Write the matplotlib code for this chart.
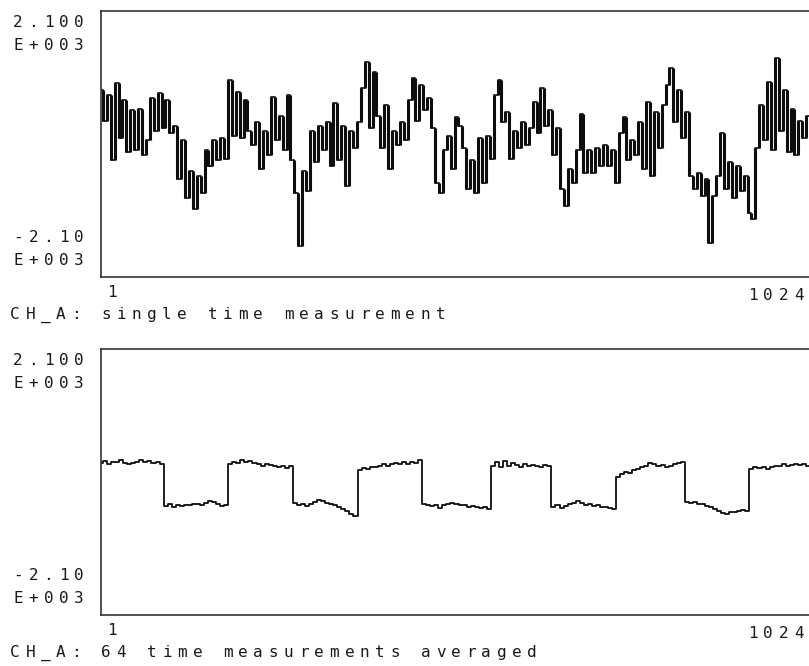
import numpy as np
import matplotlib
matplotlib.use("Agg")
import matplotlib.pyplot as plt

# --- data (values in E+003 units, i.e. raw counts) ---
y_min, y_max = -2100, 2100
x_first, x_last = 1, 1024

# CH_A, single time measurement
single_trace = [
    850, 370, 770, -260, 960, 90, 690, -130, 530, -100, 560, -180, 60, 720, 210, 800,
    250, 690, 180, 290, -550, 60, -860, -420, -1020, -500, -770, -100, -340, 60, -260, 90,
    -230, 1010, 130, 820, 90, 690, 210, -20, 340, -390, 210, -180, 740, 60,
    450, -100, 770, -260, -770, -1610, -420, -740, 210, -290, 290, -100, 340, -340, 640, -260,
    290, -660, 210, -70, 340, 880, 1290, 250, 1130, 450, -70, 610, -390, 210, -20, 340,
    60, 690, 1050, 370, 930, 530, 720, 250, -610, -770, -100, 130, -390, 420,
    290, -70, -710, -260, -770, 90, -610, 130, -230, 770, 1010, 340, 500, -230, 210, -70,
    340, -20, 250, 660, 180, 880, 290, 530, -180, 250, -710, -980, -390, -610, -100, 480,
    -450, -100, -450, -70, -340, -20, -340, -100, -610, 180, 420, -260, 60,
    -180, 340, -390, 660, -500, 500, -70, 610, 930, 1200, 340, 850, 90, 500, -500, -710,
    -450, -820, -550, -1560, -820, -500, 170, -710, -290, -860, -340, -740, -500, -1090, -1180, -70,
    610, 60, 980, -100, 1360, 210, 850, -130, 560, -180, 370, 90, 450, 210,
]

# CH_A, 64 time measurements averaged
averaged_trace = [
    300, 330, 290, 320, 310, 340, 300, 280, 300, 320, 340, 310, 330, 300, 320, 290,
    -380, -350, -390, -370, -380, -360, -370, -350, -340, -360, -330, -300, -320, -340, -380, -370,
    280, 320, 300, 340, 310, 330, 300, 290, 260, 280, 270, 250, 230, 260, 220, 250,
    -330, -360, -340, -380, -350, -310, -290, -300, -330, -350, -370, -400, -430, -460, -500, -530,
    190, 220, 200, 240, 230, 260, 280, 260, 290, 300, 280, 310, 290, 320, 300, 340,
    -340, -360, -380, -370, -410, -360, -350, -330, -350, -370, -360, -390, -380, -400, -410, -390, -420,
    260, 310, 230, 330, 250, 300, 270, 240, 280, 250, 270, 260, 240, 270, 250,
    -400, -370, -410, -380, -350, -330, -300, -330, -360, -350, -380, -370, -390, -400, -410, -420,
    80, 130, 160, 150, 190, 200, 230, 260, 300, 280, 250, 270, 240, 260, 280, 300, 320,
    -310, -330, -320, -350, -340, -380, -400, -430, -460, -490, -510, -480, -470, -460, -440, -450,
    200, 230, 220, 230, 210, 240, 260, 250, 280, 260, 270, 290, 270, 280, 260, 270,
]

top_labels = ["2.100", "E+003"]
bottom_labels = ["-2.10", "E+003"]
x_labels = ["1", "1024"]
captions = ["CH_A: single time measurement", "CH_A: 64 time measurements averaged"]

W, H = 809, 666
ink = "#1a1a1a"
trace_col = "#0d0d0d"

fig = plt.figure(figsize=(W / 100, H / 100), dpi=100)
fig.patch.set_facecolor("white")


def put_text(x_px, base_px, s, pitch=15.2, size=11.5):
    # plotter style lettering: one glyph per fixed-pitch cell
    for i, ch in enumerate(s):
        if ch == " ":
            continue
        fig.text((x_px + 5 + i * pitch) / W, 1 - base_px / H, ch,
                 ha="center", va="baseline", fontsize=size,
                 family="DejaVu Sans Mono", color=ink)


def panel(top_px, data, caption, lw, band):
    ax = fig.add_axes([101 / W, 1 - (top_px + 266) / H, 711 / W, 266 / H])
    v = np.asarray(data, dtype=float)
    x = np.linspace(x_first, x_last, len(v))
    if band:
        ax.plot(x, v, color=trace_col, lw=lw, drawstyle="steps-mid")
        # the 1024 noisy samples blur into dark vertical strokes between
        # neighbouring readings
        mids = (x[:-1] + x[1:]) / 2
        lo = np.minimum(v[:-1], v[1:])
        hi = np.maximum(v[:-1], v[1:])
        ax.vlines(mids, lo, hi, colors=trace_col, linewidth=2.2)
    else:
        ax.plot(x, v, color=trace_col, lw=lw, drawstyle="steps-mid")
    ax.set_xlim(x_first, x_last)
    ax.set_ylim(y_min, y_max)
    ax.set_xticks([])
    ax.set_yticks([])
    for sp in ax.spines.values():
        sp.set_color("#333333")
        sp.set_linewidth(1.2)

    put_text(13, top_px + 16, top_labels[0])
    put_text(13, top_px + 39, top_labels[1])
    put_text(13, top_px + 231, bottom_labels[0])
    put_text(13, top_px + 254, bottom_labels[1])
    put_text(107, top_px + 286, x_labels[0])
    put_text(748, top_px + 289, x_labels[1])
    put_text(10, top_px + 308, caption)
    return ax


panel(11, single_trace, captions[0], 1.2, True)
panel(349, averaged_trace, captions[1], 1.3, False)

fig.savefig("out.png", dpi=100, facecolor="white")
